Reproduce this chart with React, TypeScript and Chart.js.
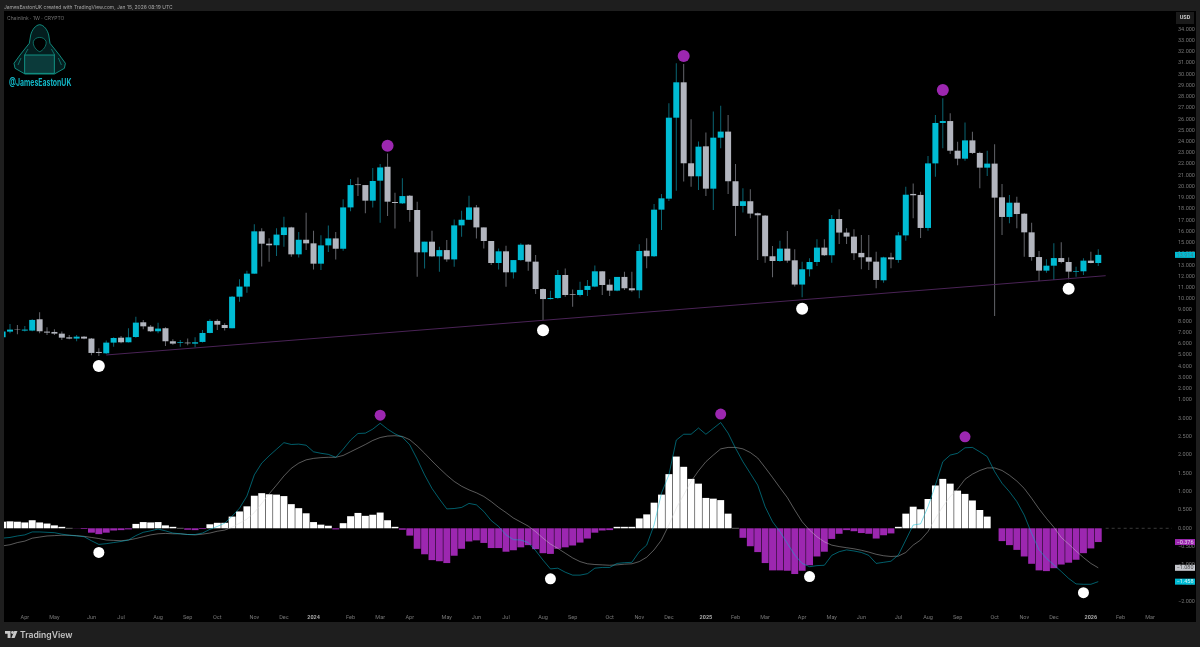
import { useEffect, useRef } from 'react';
import { Chart, registerables } from 'chart.js';

Chart.register(...registerables);

// weekly candles, index 0 is the partly cut-off bar at the left edge
const opens = [
  6.57, 7.08, 7.29, 7.17, 7.17, 8.18, 7.08, 7.05, 6.9, 6.57,
  6.46, 6.63, 6.46, 5.27, 5.15, 6.1, 6.54, 6.13, 6.6, 7.91,
  7.52, 7.11, 7.38, 6.22, 6.07, 6.1, 6.01, 6.16, 6.96, 8.03,
  7.67, 7.38, 10.19, 11.09, 12.24, 16.01, 14.91, 14.77, 15.68, 16.36,
  13.96, 15.26, 14.94, 13.13, 14.76, 15.38, 14.46, 18.14, 20.19, 20.13,
  18.74, 20.52, 21.76, 18.62, 18.5, 19.18, 17.91, 14.14, 15.09, 13.78,
  14.34, 13.51, 16.54, 17.04, 18.14, 16.36, 15.15, 13.19, 14.23, 12.36,
  13.45, 14.82, 13.31, 10.87, 9.98, 10.07, 12.12, 10.4, 10.34, 10.79,
  11.09, 12.45, 11.26, 10.73, 11.95, 10.94, 10.76, 14.29, 13.79, 17.94,
  18.92, 26.13, 29.28, 22.07, 20.91, 23.58, 19.81, 24.35, 24.89, 20.47,
  18.27, 18.69, 17.62, 17.41, 13.79, 13.37, 14.47, 13.43, 11.27, 12.63,
  13.28, 14.56, 13.88, 17.11, 15.9, 15.54, 14.09, 13.7, 13.31, 11.65,
  13.69, 13.46, 15.65, 19.34, 19.25, 16.31, 22.06, 25.66, 25.83, 23.19,
  22.48, 24.11, 22.99, 21.68, 22.04, 19.04, 17.29, 18.56, 17.58, 15.92,
  13.72, 12.51, 12.95, 13.63, 13.28, 12.42, 12.45, 13.4, 13.19,
];
const highs = [
  7.23, 7.76, 7.67, 7.58, 8.18, 8.8, 7.46, 7.29, 7.08, 6.78,
  6.78, 6.69, 6.52, 5.59, 6.28, 6.57, 6.69, 7.38, 8.41, 8.12,
  7.67, 7.88, 7.46, 6.4, 6.34, 6.46, 6.57, 7.23, 8.18, 8.18,
  7.82, 10.25, 11.74, 12.51, 16.63, 16.28, 15.39, 16.28, 17.31, 16.42,
  15.95, 17.67, 16.07, 15.65, 16.54, 15.95, 18.86, 20.67, 20.81, 20.13,
  21.65, 22.0, 22.95, 19.45, 20.73, 19.24, 18.65, 15.09, 16.07, 14.64,
  15.23, 17.07, 17.85, 19.18, 18.35, 16.36, 15.15, 14.49, 14.73, 13.45,
  14.94, 14.88, 13.9, 10.93, 10.72, 12.56, 12.71, 10.84, 11.52, 11.68,
  12.96, 12.45, 11.74, 11.95, 12.42, 12.42, 14.86, 15.39, 18.45, 19.34,
  27.41, 30.97, 30.91, 25.99, 24.0, 24.8, 26.67, 27.2, 26.37, 22.01,
  19.84, 19.75, 17.68, 17.47, 14.71, 15.18, 16.04, 14.41, 13.31, 13.61,
  15.3, 15.3, 17.47, 17.97, 16.28, 16.19, 15.69, 15.69, 14.2, 13.75,
  14.11, 15.95, 19.99, 20.28, 19.54, 22.72, 26.37, 27.85, 26.52, 23.99,
  25.69, 24.88, 23.1, 23.19, 23.76, 20.22, 19.24, 19.1, 17.61, 16.78,
  14.26, 13.52, 14.94, 15.03, 13.69, 12.86, 13.61, 14.2, 14.41,
];
const lows = [
  6.48, 6.93, 6.84, 7.08, 7.11, 6.93, 6.78, 6.78, 6.34, 6.4,
  6.22, 6.4, 4.97, 4.91, 5.09, 5.74, 6.04, 6.1, 6.54, 7.29,
  7.05, 6.93, 5.8, 5.92, 5.74, 5.86, 5.68, 6.1, 6.93, 7.23,
  7.17, 7.38, 9.75, 10.55, 12.24, 12.87, 13.31, 13.82, 14.64, 13.75,
  13.69, 14.34, 12.62, 12.56, 14.17, 13.51, 14.28, 17.79, 19.15, 17.61,
  18.14, 16.78, 17.37, 16.27, 18.44, 16.87, 11.97, 12.71, 13.75, 12.41,
  13.31, 12.86, 15.53, 17.01, 15.38, 14.49, 13.01, 12.62, 11.08, 11.82,
  13.39, 12.5, 10.43, 8.11, 9.95, 10.01, 10.19, 9.3, 10.2, 10.26,
  11.03, 10.34, 10.26, 10.67, 10.79, 10.64, 10.05, 12.72, 13.73, 16.13,
  18.71, 19.63, 20.44, 19.99, 19.69, 19.16, 17.91, 23.4, 19.34, 15.6,
  17.68, 17.17, 13.46, 13.22, 11.92, 13.31, 13.22, 11.09, 10.14, 11.98,
  12.93, 13.82, 13.22, 14.89, 14.89, 13.46, 12.63, 12.57, 10.94, 11.44,
  12.72, 13.22, 15.18, 17.17, 15.42, 16.07, 20.88, 23.4, 22.9, 21.89,
  22.3, 22.9, 19.84, 20.94, 8.47, 15.69, 16.72, 16.28, 13.75, 13.4,
  11.59, 12.33, 11.68, 13.16, 11.74, 11.97, 12.12, 13.16, 12.92,
];
const closes = [
  7.08, 7.26, 7.26, 7.26, 8.12, 7.11, 6.99, 6.9, 6.54, 6.46,
  6.63, 6.46, 5.18, 5.18, 6.1, 6.51, 6.13, 6.57, 7.88, 7.55,
  7.11, 7.35, 6.22, 6.01, 6.13, 6.04, 6.13, 6.96, 8.03, 7.7,
  7.4, 10.19, 11.09, 12.24, 16.01, 14.91, 14.77, 15.72, 16.36, 13.96,
  15.26, 14.94, 13.13, 14.76, 15.38, 14.46, 18.14, 20.13, 20.13, 18.74,
  20.49, 21.7, 18.65, 18.53, 19.15, 17.91, 14.14, 15.09, 13.78, 14.34,
  13.51, 16.54, 17.04, 18.14, 16.36, 15.15, 13.19, 14.23, 12.36, 13.45,
  14.82, 13.31, 10.87, 9.98, 10.07, 12.12, 10.34, 10.34, 10.79, 11.15,
  12.45, 11.23, 10.73, 11.95, 10.94, 10.76, 14.26, 13.79, 17.94, 18.95,
  26.13, 29.28, 22.07, 20.91, 23.55, 19.81, 24.35, 24.89, 20.47, 18.27,
  18.69, 17.59, 17.44, 13.79, 13.37, 14.47, 13.4, 11.27, 12.63, 13.28,
  14.56, 13.88, 17.11, 15.9, 15.54, 14.06, 13.7, 13.31, 11.68, 13.69,
  13.52, 15.65, 19.27, 19.22, 16.31, 22.06, 25.66, 25.83, 23.19, 22.48,
  24.11, 22.99, 21.68, 22.04, 19.01, 17.29, 18.56, 17.55, 15.92, 13.72,
  12.51, 12.95, 13.63, 13.28, 12.42, 12.48, 13.4, 13.19, 13.914,
];

const macdHist = [
  0.18, 0.19, 0.18, 0.16, 0.22, 0.16, 0.13, 0.08, 0.04, 0.01,
  -0.005, -0.02, -0.12, -0.16, -0.12, -0.06, -0.05, -0.03, 0.12, 0.17,
  0.16, 0.17, 0.08, 0.04, 0.01, -0.04, -0.05, -0.02, 0.11, 0.15,
  0.15, 0.32, 0.46, 0.6, 0.89, 0.96, 0.93, 0.92, 0.88, 0.66,
  0.55, 0.41, 0.17, 0.1, 0.07, -0.03, 0.14, 0.33, 0.42, 0.34,
  0.37, 0.43, 0.22, 0.04, -0.04, -0.2, -0.56, -0.71, -0.87, -0.9,
  -0.95, -0.75, -0.56, -0.36, -0.33, -0.4, -0.54, -0.54, -0.64, -0.6,
  -0.52, -0.46, -0.57, -0.68, -0.7, -0.56, -0.52, -0.47, -0.39, -0.28,
  -0.12, -0.06, -0.05, 0.04, 0.04, 0.04, 0.27, 0.38, 0.7, 0.92,
  1.48, 1.96, 1.68, 1.35, 1.22, 0.83, 0.81, 0.77, 0.4, 0.01,
  -0.26, -0.49, -0.65, -0.95, -1.15, -1.15, -1.16, -1.25, -1.16, -1.01,
  -0.77, -0.64, -0.29, -0.15, -0.05, -0.08, -0.13, -0.15, -0.28, -0.19,
  -0.14, 0.04, 0.4, 0.59, 0.52, 0.8, 1.17, 1.35, 1.22, 1.03,
  0.94, 0.76, 0.5, 0.32, 0.0, -0.35, -0.46, -0.59, -0.77, -0.97,
  -1.15, -1.17, -1.09, -0.99, -0.94, -0.86, -0.68, -0.55, -0.376,
];
const macdLine = [
  -0.27, -0.25, -0.21, -0.18, -0.1, -0.1, -0.11, -0.12, -0.16, -0.19,
  -0.21, -0.23, -0.34, -0.44, -0.42, -0.39, -0.36, -0.32, -0.2, -0.11,
  -0.07, -0.02, -0.07, -0.13, -0.15, -0.17, -0.17, -0.13, -0.03, 0.05,
  0.14, 0.33, 0.55, 0.88, 1.46, 1.78, 1.98, 2.16, 2.34, 2.29,
  2.3, 2.27, 2.09, 2.05, 2.02, 1.94, 2.16, 2.41, 2.59, 2.6,
  2.71, 2.87, 2.71, 2.58, 2.49, 2.28, 1.89, 1.46, 1.09, 0.8,
  0.53, 0.54, 0.57, 0.68, 0.64, 0.46, 0.21, 0.05, -0.18, -0.31,
  -0.32, -0.39, -0.61, -0.87, -1.11, -1.09, -1.2, -1.28, -1.28, -1.24,
  -1.09, -1.07, -1.07, -0.96, -0.94, -0.93, -0.64, -0.46, 0.09, 0.96,
  1.46, 2.41, 2.57, 2.57, 2.74, 2.57, 2.73, 2.89, 2.6, 2.19,
  1.82, 1.5, 1.18, 0.59, 0.18, -0.09, -0.41, -0.73, -0.96, -1.05,
  -1.02, -1.01, -0.74, -0.64, -0.59, -0.62, -0.66, -0.74, -0.96, -0.93,
  -0.9, -0.73, -0.32, 0.09, 0.12, 0.59, 1.18, 1.82, 2.0, 2.05,
  2.2, 2.21, 2.09, 1.96, 1.55, 1.23, 1.0, 0.73, 0.36, -0.14,
  -0.59, -0.82, -1.0, -1.18, -1.37, -1.52, -1.53, -1.53, -1.458,
];
const signalLine = [
  -0.48, -0.45, -0.39, -0.35, -0.27, -0.24, -0.21, -0.2, -0.19, -0.19,
  -0.2, -0.22, -0.25, -0.28, -0.32, -0.33, -0.34, -0.32, -0.28, -0.23,
  -0.18, -0.15, -0.14, -0.15, -0.15, -0.17, -0.18, -0.16, -0.13, -0.08,
  -0.05, 0.03, 0.14, 0.25, 0.43, 0.68, 0.94, 1.18, 1.43, 1.64,
  1.78, 1.87, 1.91, 1.93, 1.94, 1.94, 1.99, 2.09, 2.19, 2.29,
  2.4, 2.48, 2.52, 2.53, 2.51, 2.42, 2.25, 2.05, 1.84, 1.64,
  1.45, 1.28, 1.15, 1.05, 0.97, 0.87, 0.73, 0.57, 0.43, 0.28,
  0.17, 0.06, -0.09, -0.27, -0.43, -0.55, -0.68, -0.81, -0.91, -0.97,
  -0.99, -1.0, -1.01, -1.0, -0.98, -0.97, -0.91, -0.79, -0.59, -0.32,
  0.09, 0.55, 0.91, 1.28, 1.57, 1.82, 2.0, 2.17, 2.21, 2.21,
  2.17, 2.07, 1.92, 1.66, 1.39, 1.11, 0.84, 0.5, 0.18, -0.05,
  -0.23, -0.37, -0.46, -0.5, -0.53, -0.56, -0.6, -0.65, -0.71, -0.75,
  -0.77, -0.76, -0.66, -0.46, -0.32, -0.09, 0.27, 0.59, 0.87, 1.07,
  1.34, 1.48, 1.58, 1.65, 1.65, 1.58, 1.45, 1.29, 1.09, 0.82,
  0.53, 0.27, 0.03, -0.25, -0.43, -0.62, -0.8, -0.96, -1.08,
];

const priceTops = [{ x: 52, y: 23.63 }, { x: 92, y: 31.62 }, { x: 127, y: 28.59 }];
const priceBottoms = [{ x: 13, y: 4.02 }, { x: 73, y: 7.2 }, { x: 108, y: 9.12 }, { x: 144, y: 10.9 }];
const macdTops = [{ x: 51, y: 3.09 }, { x: 97, y: 3.12 }, { x: 130, y: 2.5 }];
const macdBottoms = [{ x: 13, y: -0.66 }, { x: 74, y: -1.38 }, { x: 109, y: -1.32 }, { x: 146, y: -1.76 }];
const trendLine = [{ x: 14, y: 5.0 }, { x: 149, y: 12.06 }];
const zeroLine = [{ x: 149, y: 0 }, { x: 158, y: 0 }];

const monthIdx = [3, 7, 12, 16, 21, 25, 29, 34, 38, 42, 47, 51, 55, 60, 64, 68, 73, 77, 82, 86, 90, 95, 99, 103, 108, 112, 116, 121, 125, 129, 134, 138, 142, 147, 151, 155];
const monthLabels = ['Apr', 'May', 'Jun', 'Jul', 'Aug', 'Sep', 'Oct', 'Nov', 'Dec', '2024', 'Feb', 'Mar', 'Apr', 'May', 'Jun', 'Jul', 'Aug', 'Sep', 'Oct', 'Nov', 'Dec', '2025', 'Feb', 'Mar', 'Apr', 'May', 'Jun', 'Jul', 'Aug', 'Sep', 'Oct', 'Nov', 'Dec', '2026', 'Feb', 'Mar'];
const priceTicks = [34, 33, 32, 31, 30, 29, 28, 27, 26, 25, 24, 23, 22, 21, 20, 19, 18, 17, 16, 15, 14, 13, 12, 11, 10, 9, 8, 7, 6, 5, 4, 3, 2, 1];
const macdTicks = [3, 2.5, 2, 1.5, 1, 0.5, 0, -0.5, -1, -1.5, -2];

const UP = '#00bcd4';
const DOWN = '#b2b5be';
const UP_WICK = '#0a6573';
const DOWN_WICK = '#63646a';
const PURPLE = '#9c27b0';
const TICK_COLOR = '#767676';
const AXIS_FONT = 'Roboto, sans-serif';

const fmt = (v: number) => (v < 0 ? '\u2212' : '') + Math.abs(v).toFixed(3);

const pillsPlugin = {
  id: 'pills',
  beforeDraw(chart: any) {
    const { ctx, width, height } = chart;
    ctx.save();
    ctx.fillStyle = '#000';
    ctx.fillRect(4, 11, width - 8, height - 36);
    ctx.restore();
  },
  afterDraw(chart: any) {
    const { ctx, scales } = chart;
    const pills = [
      { px: scales.y.getPixelForValue(13.914), text: '13.914', bg: UP, fg: '#3f7f8a' },
      { px: scales.macd.getPixelForValue(-0.376), text: fmt(-0.376), bg: PURPLE, fg: '#e6d3ea' },
      { px: scales.macd.getPixelForValue(-1.08), text: fmt(-1.08), bg: '#c4c6cc', fg: '#4a4a4a' },
      { px: scales.macd.getPixelForValue(-1.458), text: fmt(-1.458), bg: UP, fg: '#d5f3f7' },
    ];
    ctx.save();
    ctx.font = `5.5px ${AXIS_FONT}`;
    ctx.textAlign = 'center';
    ctx.textBaseline = 'middle';
    pills.forEach((p) => {
      ctx.fillStyle = p.bg;
      ctx.fillRect(1175, p.px - 3, 20, 6);
      ctx.fillStyle = p.fg;
      ctx.fillText(p.text, 1185, p.px + 0.3);
    });
    // currency box above the price scale
    ctx.fillStyle = '#1a1a1a';
    ctx.fillRect(1176, 12, 18, 12);
    ctx.fillStyle = '#c8c8c8';
    ctx.font = `bold 5.5px ${AXIS_FONT}`;
    ctx.fillText('USD', 1185, 18);
    ctx.restore();
  },
};

export default function App() {
  const canvasRef = useRef<HTMLCanvasElement>(null);

  useEffect(() => {
    if (!canvasRef.current) return;
    const idx = closes.map((_, i) => i);
    const isUp = (i: number) => closes[i] >= opens[i];

    const chart = new Chart(canvasRef.current, {
      type: 'bar',
      data: {
        datasets: [
          {
            type: 'line', data: priceTops, yAxisID: 'y', showLine: false, order: 0,
            pointRadius: 6, pointBackgroundColor: PURPLE, pointBorderWidth: 0,
          },
          {
            type: 'line', data: priceBottoms, yAxisID: 'y', showLine: false, order: 0,
            pointRadius: 6, pointBackgroundColor: '#fff', pointBorderWidth: 0,
          },
          {
            type: 'line', data: macdTops, yAxisID: 'macd', showLine: false, order: 0,
            pointRadius: 5.5, pointBackgroundColor: PURPLE, pointBorderWidth: 0,
          },
          {
            type: 'line', data: macdBottoms, yAxisID: 'macd', showLine: false, order: 0,
            pointRadius: 5.5, pointBackgroundColor: '#fff', pointBorderWidth: 0,
          },
          {
            type: 'line', data: trendLine, yAxisID: 'y', order: 1,
            borderColor: '#4a2356', borderWidth: 1, pointRadius: 0,
          },
          {
            type: 'line', data: idx.map((i) => ({ x: i, y: macdLine[i] })), yAxisID: 'macd', order: 2,
            borderColor: 'rgba(0, 188, 212, 0.5)', borderWidth: 1, pointRadius: 0,
          },
          {
            type: 'line', data: idx.map((i) => ({ x: i, y: signalLine[i] })), yAxisID: 'macd', order: 2,
            borderColor: 'rgba(215, 215, 215, 0.42)', borderWidth: 1, pointRadius: 0,
          },
          {
            type: 'line', data: zeroLine, yAxisID: 'macd', order: 2,
            borderColor: '#3a3a3a', borderWidth: 1, borderDash: [3, 3], pointRadius: 0,
          },
          {
            type: 'bar', data: idx.map((i) => ({ x: i, y: [opens[i], closes[i]] })), yAxisID: 'y', order: 3,
            grouped: false, barThickness: 6, inflateAmount: 0,
            backgroundColor: idx.map((i) => (isUp(i) ? UP : DOWN)),
          },
          {
            type: 'bar', data: idx.map((i) => ({ x: i, y: [lows[i], highs[i]] })), yAxisID: 'y', order: 4,
            grouped: false, barThickness: 1, inflateAmount: 0,
            backgroundColor: idx.map((i) => (isUp(i) ? UP_WICK : DOWN_WICK)),
          },
          {
            type: 'bar', data: idx.map((i) => ({ x: i, y: macdHist[i] })), yAxisID: 'macd', order: 5,
            grouped: false, barThickness: 6.9, inflateAmount: 0,
            backgroundColor: idx.map((i) => (macdHist[i] >= 0 ? '#ffffff' : PURPLE)),
          },
        ] as any,
      },
      options: {
        responsive: false,
        animation: false,
        layout: { padding: { left: 4, top: 11, right: 4, bottom: 25 }, autoPadding: false },
        plugins: { legend: { display: false }, tooltip: { enabled: false } },
        scales: {
          x: {
            type: 'linear',
            offset: false,
            min: 0.189,
            max: 157.96,
            grid: { display: false, drawTicks: false },
            border: { display: false },
            afterBuildTicks: (axis: any) => {
              axis.ticks = monthIdx.map((value) => ({ value }));
            },
            afterFit: (axis: any) => {
              axis.height = 11;
            },
            ticks: {
              autoSkip: false,
              maxRotation: 0,
              padding: 3,
              callback: (v: any) => monthLabels[monthIdx.indexOf(Number(v))],
              color: (c: any) => (/^20/.test(c.tick?.label ?? '') ? '#a8a8a8' : TICK_COLOR),
              font: (c: any) => ({
                family: AXIS_FONT,
                size: 5.5,
                weight: /^20/.test(c.tick?.label ?? '') ? 'bold' : 'normal',
              }),
            },
          },
          y: {
            type: 'linear',
            position: 'right',
            stack: 'panes',
            stackWeight: 394,
            min: 0.545,
            max: 35.63,
            grid: { display: false, drawTicks: false },
            border: { display: false },
            afterBuildTicks: (axis: any) => {
              axis.ticks = priceTicks.map((value) => ({ value }));
            },
            afterFit: (axis: any) => {
              axis.width = 24;
            },
            ticks: {
              autoSkip: false,
              padding: 6,
              color: TICK_COLOR,
              font: { family: AXIS_FONT, size: 5.5 },
              callback: (v: any) => fmt(Number(v)),
            },
          },
          macd: {
            type: 'linear',
            position: 'right',
            stack: 'panes',
            stackWeight: 206,
            min: -2.26,
            max: 3.369,
            grid: { display: false, drawTicks: false },
            border: { display: false },
            afterBuildTicks: (axis: any) => {
              axis.ticks = macdTicks.map((value) => ({ value }));
            },
            afterFit: (axis: any) => {
              axis.width = 24;
            },
            ticks: {
              autoSkip: false,
              padding: 6,
              color: TICK_COLOR,
              font: { family: AXIS_FONT, size: 5.5 },
              callback: (v: any) => fmt(Number(v)),
            },
          },
        },
      } as any,
      plugins: [pillsPlugin],
    });

    return () => chart.destroy();
  }, []);

  return (
    <div style={{ position: 'fixed', left: 0, top: 0, width: 1200, height: 647, background: '#1e1e1e', overflow: 'hidden', fontFamily: 'Inter, sans-serif' }}>
      <canvas ref={canvasRef} width={1200} height={647} style={{ position: 'absolute', left: 0, top: 0 }} />
      <div style={{ position: 'absolute', left: 4, top: 3, fontSize: 4.95, lineHeight: '8px', color: '#a6a6a6', whiteSpace: 'nowrap' }}>
        JamesEastonUK created with TradingView.com, Jan 15, 2026 08:19 UTC
      </div>
      <div style={{ position: 'absolute', left: 7, top: 14, fontSize: 5, lineHeight: '8px', color: '#707070', whiteSpace: 'nowrap' }}>
        Chainlink · 1W · CRYPTO
      </div>
      <svg width={60} height={56} viewBox="0 0 60 56" style={{ position: 'absolute', left: 10, top: 22 }}>
        <path d="M29.7 2.7 C34 3 37.5 8 38.7 13 L40 21.3 L49.4 33 L55.4 41.3 L54.4 46.3 L44.4 52 L15 52 L5 46.3 L4 41.3 L10 33 L19.3 21.3 L20.7 13 C22 8 25.4 3 29.7 2.7 Z" fill="#041e1f" stroke="#14a898" strokeWidth="0.8" />
        <path d="M23.3 19.7 C25 14 34.4 14 36.1 19.7 C36.6 24 33 28.5 29.7 29.7 C26.4 28.5 22.8 24 23.3 19.7 Z" fill="#000" stroke="#14a898" strokeWidth="0.6" />
        <path d="M11 36 L8 43 M48.4 36 L51.4 43 M18 27 L14.7 33 M41.4 27 L44.7 33" fill="none" stroke="#14a898" strokeWidth="0.6" />
        <rect x="14.7" y="33" width="29.6" height="18.3" fill="#0b3a3a" stroke="#14a898" strokeWidth="0.8" />
      </svg>
      <div style={{ position: 'absolute', left: 9, top: 76, fontSize: 10, lineHeight: '12px', fontWeight: 700, color: '#12b5c4', whiteSpace: 'nowrap', transform: 'scaleX(0.69)', transformOrigin: 'left center' }}>
        @JamesEastonUK
      </div>
      <svg width={13} height={8} viewBox="0 0 13 8" style={{ position: 'absolute', left: 5, top: 631 }}>
        <path d="M0 0 H5.5 V7 H2.6 V2.8 H0 Z M12.5 0 L9.6 7 H6.4 L9.3 0 Z" fill="#c9c9c9" />
        <circle cx="7.5" cy="1.5" r="1.4" fill="#c9c9c9" />
      </svg>
      <div style={{ position: 'absolute', left: 20, top: 629, fontSize: 8.6, lineHeight: '12px', fontWeight: 600, color: '#c4c4c4', whiteSpace: 'nowrap' }}>
        TradingView
      </div>
    </div>
  );
}
